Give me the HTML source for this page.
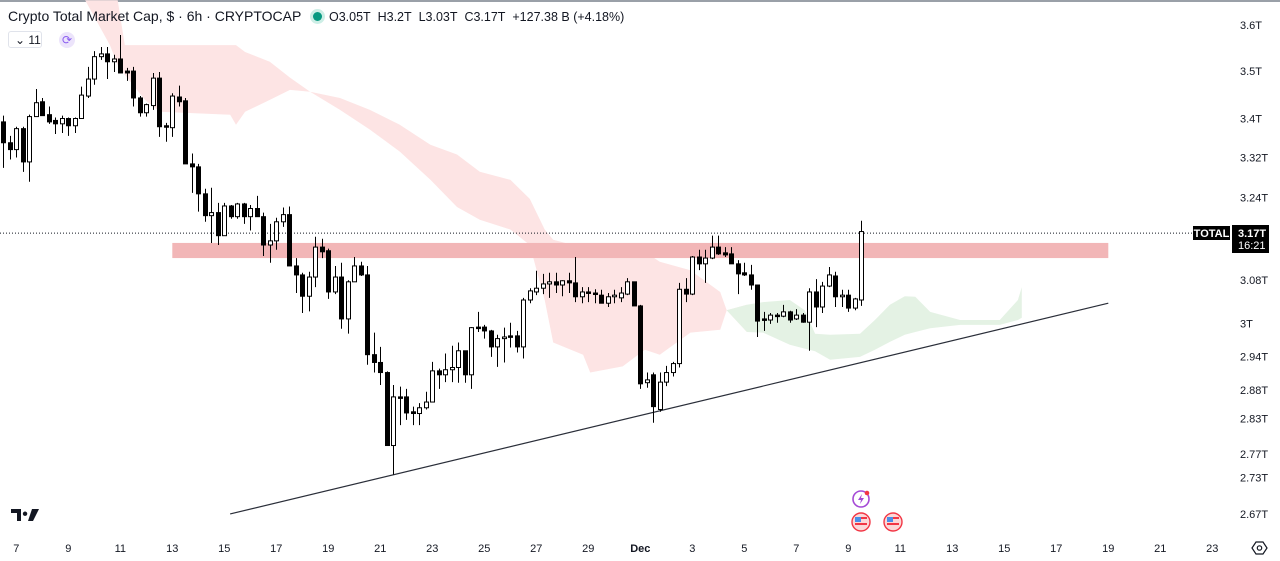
<!DOCTYPE html>
<html><head><meta charset="utf-8"><style>
html,body{margin:0;padding:0;background:#fff;}
body{width:1280px;height:561px;overflow:hidden;position:relative;font-family:"Liberation Sans",sans-serif;}
svg{position:absolute;left:0;top:0;}
.hdr{position:absolute;left:8px;top:8px;font-size:14px;color:#131722;white-space:nowrap;}
.ax{font-size:11px;fill:#131722;font-family:"Liberation Sans",sans-serif;}
</style></head><body>
<svg id="chart" width="1280" height="561">
 <rect x="0" y="0" width="1280" height="2" fill="#9aa0a8"/>
 <g id="clouds"></g>
 <g id="zone"></g>
 <g id="trend"></g>
 <g id="candles"></g>
 <g id="yaxis"></g>
 <g id="xaxis"></g>
 <g>
  <path d="M11 509h10v12h-4v-8h-6z M25 511.5a2.2 2.2 0 1 0 0.1 0z M32 509h7l-6 12h-5z" fill="#131722"/>
 </g>
 <g>
  <circle cx="861" cy="499" r="8" fill="#fff" stroke="#a54ad6" stroke-width="1.6"/>
  <path d="M862 494l-4 6h3l-1 4 4-6h-3z" fill="#a54ad6"/>
  <circle cx="867" cy="493" r="2.3" fill="#f23645"/>
 </g>
 <g>
  <circle cx="861" cy="522" r="9" fill="#fbd8d8" stroke="#f23645" stroke-width="1.4"/>
  <rect x="855" y="517" width="6" height="5" fill="#4a8fe8"/><rect x="861" y="517" width="6" height="2" fill="#f23645"/><rect x="855" y="523" width="12" height="2" fill="#f23645"/>
 </g>
 <g>
  <circle cx="893" cy="522" r="9" fill="#fbd8d8" stroke="#f23645" stroke-width="1.4"/>
  <rect x="887" y="517" width="6" height="5" fill="#4a8fe8"/><rect x="893" y="517" width="6" height="2" fill="#f23645"/><rect x="887" y="523" width="12" height="2" fill="#f23645"/>
 </g>
 <g>
  <path d="M1252 548l4-6h7l4 6-4 6h-7z" fill="none" stroke="#131722" stroke-width="1.2"/>
  <circle cx="1259.5" cy="548" r="2.2" fill="none" stroke="#131722" stroke-width="1.2"/>
 </g>
 <g>
  <rect x="1193" y="226" width="37" height="14" fill="#000"/>
  <text x="1211.5" y="237" text-anchor="middle" font-size="11" font-weight="bold" fill="#fff" font-family="Liberation Sans,sans-serif">TOTAL</text>
  <rect x="1232" y="225" width="37" height="28" fill="#000"/>
  <text x="1238" y="237" font-size="11" font-weight="bold" fill="#fff" font-family="Liberation Sans,sans-serif">3.17T</text>
  <text x="1238" y="249" font-size="11" fill="#fff" font-family="Liberation Sans,sans-serif">16:21</text>
 </g>
</svg>
<div class="hdr">Crypto Total Market Cap, $ · 6h · CRYPTOCAP <span style="display:inline-block;width:9px;height:9px;border-radius:50%;background:#089981;box-shadow:0 0 0 3px #cdeee6;margin:0 7px 0 8px;vertical-align:0px"></span><span style="font-size:12.5px">O3.05T&nbsp; H3.2T&nbsp; L3.03T&nbsp; C3.17T&nbsp; +127.38 B (+4.18%)</span></div>
<div style="position:absolute;left:8px;top:31px;width:34px;height:17px;border:1px solid #e0e3eb;border-radius:3px;font-size:12px;color:#131722;line-height:17px;box-sizing:border-box;padding-left:6px">⌄ 11</div>
<div style="position:absolute;left:59px;top:32px;width:16px;height:16px;border-radius:50%;background:#ece4fb;color:#8a5cf0;font-size:12px;line-height:16px;text-align:center">⟳</div>
<script>
const opens=[3.393,3.350,3.336,3.379,3.311,3.404,3.435,3.408,3.396,3.389,3.400,3.385,3.400,3.447,3.483,3.531,3.537,3.520,3.526,3.500,3.500,3.443,3.412,3.427,3.485,3.385,3.381,3.445,3.437,3.307,3.301,3.247,3.204,3.210,3.165,3.223,3.202,3.227,3.202,3.218,3.202,3.147,3.155,3.192,3.206,3.107,3.090,3.050,3.086,3.143,3.136,3.058,3.086,3.008,3.077,3.107,3.090,2.943,2.929,2.911,2.784,2.868,2.868,2.842,2.839,2.849,2.859,2.914,2.907,2.916,2.920,2.950,2.907,2.993,2.993,2.986,2.957,2.972,2.977,2.977,2.957,3.043,3.058,3.065,3.073,3.077,3.071,3.079,3.075,3.049,3.058,3.056,3.052,3.037,3.049,3.047,3.054,3.077,3.032,2.893,2.907,2.846,2.894,2.911,2.927,3.063,3.054,3.124,3.111,3.122,3.143,3.132,3.130,3.111,3.094,3.090,3.071,3.008,3.006,3.015,3.013,3.021,3.008,3.015,3.002,3.058,3.030,3.069,3.088,3.049,3.052,3.028,3.043];
const highs=[3.406,3.364,3.383,3.383,3.408,3.462,3.443,3.425,3.402,3.406,3.402,3.402,3.467,3.509,3.543,3.552,3.552,3.535,3.578,3.507,3.509,3.447,3.431,3.496,3.498,3.391,3.453,3.469,3.443,3.328,3.307,3.257,3.259,3.229,3.229,3.225,3.229,3.229,3.225,3.243,3.210,3.188,3.200,3.220,3.222,3.122,3.094,3.096,3.163,3.159,3.140,3.107,3.113,3.080,3.124,3.115,3.107,2.983,2.957,2.913,2.889,2.886,2.882,2.851,2.857,2.877,2.930,2.918,2.945,2.959,2.965,2.950,2.993,3.021,2.997,2.988,2.979,2.992,3.001,2.986,3.047,3.065,3.098,3.092,3.094,3.094,3.080,3.094,3.124,3.067,3.067,3.063,3.062,3.056,3.062,3.067,3.084,3.077,3.034,2.911,2.911,2.911,2.923,2.930,3.075,3.084,3.126,3.138,3.138,3.165,3.165,3.143,3.143,3.118,3.113,3.109,3.071,3.021,3.019,3.019,3.034,3.023,3.026,3.019,3.065,3.082,3.077,3.105,3.096,3.062,3.062,3.047,3.194];
const lows=[3.299,3.316,3.320,3.291,3.271,3.404,3.406,3.389,3.368,3.370,3.364,3.370,3.400,3.443,3.471,3.524,3.483,3.498,3.496,3.479,3.425,3.404,3.404,3.418,3.362,3.352,3.362,3.425,3.307,3.249,3.212,3.192,3.151,3.147,3.165,3.198,3.198,3.188,3.175,3.202,3.126,3.113,3.138,3.182,3.107,3.056,3.019,3.022,3.067,3.122,3.045,3.054,2.990,2.981,3.077,3.088,2.925,2.911,2.889,2.784,2.735,2.819,2.828,2.819,2.819,2.846,2.859,2.882,2.894,2.894,2.893,2.893,2.882,2.984,2.972,2.939,2.921,2.929,2.956,2.947,2.936,3.037,3.052,3.054,3.047,3.056,3.050,3.056,3.039,3.037,3.039,3.037,3.037,3.030,3.037,3.039,3.052,3.032,2.882,2.884,2.823,2.842,2.887,2.904,2.920,3.039,3.052,3.099,3.075,3.120,3.128,3.124,3.111,3.054,3.088,3.062,2.975,2.986,2.999,3.001,3.011,3.001,3.006,3.001,2.950,2.993,3.019,3.067,3.030,3.030,3.021,3.024,3.032];
const closes=[3.350,3.336,3.379,3.311,3.404,3.433,3.406,3.393,3.389,3.400,3.385,3.400,3.449,3.483,3.531,3.537,3.520,3.526,3.496,3.496,3.443,3.412,3.429,3.485,3.383,3.383,3.447,3.435,3.307,3.301,3.247,3.204,3.210,3.165,3.223,3.202,3.227,3.202,3.218,3.202,3.147,3.155,3.192,3.206,3.107,3.090,3.050,3.086,3.143,3.134,3.058,3.086,3.008,3.077,3.107,3.090,2.943,2.929,2.911,2.784,2.868,2.866,2.840,2.839,2.849,2.859,2.914,2.907,2.916,2.920,2.950,2.907,2.992,2.992,2.986,2.957,2.972,2.975,2.975,2.957,3.043,3.060,3.065,3.073,3.077,3.071,3.079,3.075,3.049,3.058,3.056,3.054,3.037,3.049,3.052,3.056,3.077,3.032,2.891,2.898,2.851,2.894,2.911,2.927,3.063,3.054,3.124,3.111,3.122,3.143,3.130,3.128,3.111,3.092,3.090,3.071,3.004,3.006,3.015,3.013,3.021,3.006,3.015,3.002,3.058,3.030,3.069,3.090,3.049,3.052,3.028,3.045,3.173];
const cloudIdx=[12.6,16.4,17.6,18.7,21.8,24.1,34.9,35.8,37.2,41.0,44.1,47.2,51.8,56.4,61.0,65.7,69.8,73.3,78.0,81.0,83.3,84.6,89.2,90.3,95.3,98.7,101.0,105.7,110.3,111.3,114.4,116.9,121.0,123.3,124.9,127.2,131.8,134.1,136.4,138.7,140.3,142.6,147.2,153.3,156.1,156.7];
const spanA=[3.655,3.556,3.513,3.492,3.439,3.414,3.408,3.387,3.414,3.439,3.460,3.456,3.418,3.377,3.332,3.275,3.221,3.196,3.177,3.147,3.043,2.965,2.943,2.911,2.922,2.952,2.943,2.983,2.988,3.024,3.034,3.039,3.043,3.024,2.981,2.979,2.981,3.006,3.034,3.050,3.049,3.021,3.006,3.006,3.043,3.067];
const spanB=[3.655,3.655,3.655,3.556,3.556,3.556,3.556,3.556,3.541,3.520,3.486,3.456,3.443,3.418,3.387,3.346,3.326,3.291,3.275,3.237,3.177,3.157,3.142,3.138,3.138,3.134,3.115,3.099,3.058,3.024,2.984,2.983,2.961,2.954,2.949,2.934,2.939,2.952,2.966,2.979,2.984,2.991,2.997,2.997,3.006,3.010];
const zoneTop=3.151, zoneBottom=3.122, zoneStartIdx=26.0, zoneEndIdx=170.0;
const trendIdx=[34.9,170.0];
const trendVal=[2.670,3.037];
const lastPrice=3.17;
const yTicks=[3.6,3.5,3.4,3.32,3.24,3.08,3.0,2.94,2.88,2.83,2.77,2.73,2.67];
const yTickLabels=["3.6T","3.5T","3.4T","3.32T","3.24T","3.08T","3T","2.94T","2.88T","2.83T","2.77T","2.73T","2.67T"];
const xTickDays=[7,9,11,13,15,17,19,21,23,25,27,29,31,33,35,37,39,41,43,45,47,49,51,53];
const xTickLabels=["7","9","11","13","15","17","19","21","23","25","27","29","Dec","3","5","7","9","11","13","15","17","19","21","23"];

const NS="http://www.w3.org/2000/svg";
function yS(v){return 25+(Math.log(3.6)-Math.log(v))*1636;}
function xS(i){return 3.3+i*6.5;}
function dayIdx(d){return (d-6.5)*4;}
function mk(t,a){const e=document.createElementNS(NS,t);for(const k in a)e.setAttribute(k,a[k]);return e;}

const cg=document.getElementById('clouds');
let runs=[],cur=null;
for(let i=0;i<cloudIdx.length;i++){
  const red=spanB[i]>=spanA[i];
  if(!cur||cur.red!==red){ if(cur){cur.pts.push(i);} cur={red:red,pts:cur?[i-1,i]:[i]}; runs.push(cur);} else cur.pts.push(i);
}
runs.forEach(r=>{
  const top=r.pts.map(i=>xS(cloudIdx[i]).toFixed(1)+','+yS(spanB[i]).toFixed(1));
  const bot=r.pts.slice().reverse().map(i=>xS(cloudIdx[i]).toFixed(1)+','+yS(spanA[i]).toFixed(1));
  const p=mk('polygon',{points:top.concat(bot).join(' '),fill:r.red?'#fde4e4':'#e4f2e4'});
  
  
  cg.appendChild(p);
});

const dl=mk('line',{x1:0,x2:1192,y1:yS(lastPrice),y2:yS(lastPrice),stroke:'#131722','stroke-width':1,'stroke-dasharray':'1,2'});


document.getElementById('chart').insertBefore(dl,document.getElementById('zone'));

const zr=mk('rect',{x:xS(zoneStartIdx),y:yS(zoneTop),width:xS(zoneEndIdx)-xS(zoneStartIdx),height:yS(zoneBottom)-yS(zoneTop),fill:'#f2b6b7'});


document.getElementById('zone').appendChild(zr);

const tl=mk('line',{x1:xS(trendIdx[0]),y1:yS(trendVal[0]),x2:xS(trendIdx[1]),y2:yS(trendVal[1]),stroke:'#2a2e39','stroke-width':1.2});


document.getElementById('trend').appendChild(tl);

const kg=document.getElementById('candles');
for(let i=0;i<opens.length;i++){
  const x=Math.round(xS(i)),o=opens[i],c=closes[i],up=c>=o;
  const w=mk('line',{x1:x+0.5,x2:x+0.5,y1:yS(highs[i]),y2:yS(lows[i]),stroke:'#000','stroke-width':1});
  
  
  kg.appendChild(w);
  const t=Math.min(yS(o),yS(c)),h=Math.max(1.5,Math.abs(yS(o)-yS(c)));
  const b=mk('rect',{x:x-1.5,y:t,width:4,height:h,fill:up?'#fff':'#000',stroke:'#000','stroke-width':1});
  
  
  kg.appendChild(b);
}

const ya=document.getElementById('yaxis');
yTicks.forEach((v,k)=>{
  const t=mk('text',{x:1240,y:yS(v)+4,class:'ax'});
  t.textContent=yTickLabels[k];
  
  
  ya.appendChild(t);
});
const xa=document.getElementById('xaxis');
xTickDays.forEach((d,k)=>{
  const t=mk('text',{x:xS(dayIdx(d)),y:552,class:'ax','text-anchor':'middle'});
  t.textContent=xTickLabels[k];
  if(xTickLabels[k]==='Dec')t.setAttribute('font-weight','bold');
  
  
  xa.appendChild(t);
});
</script>
</body></html>
